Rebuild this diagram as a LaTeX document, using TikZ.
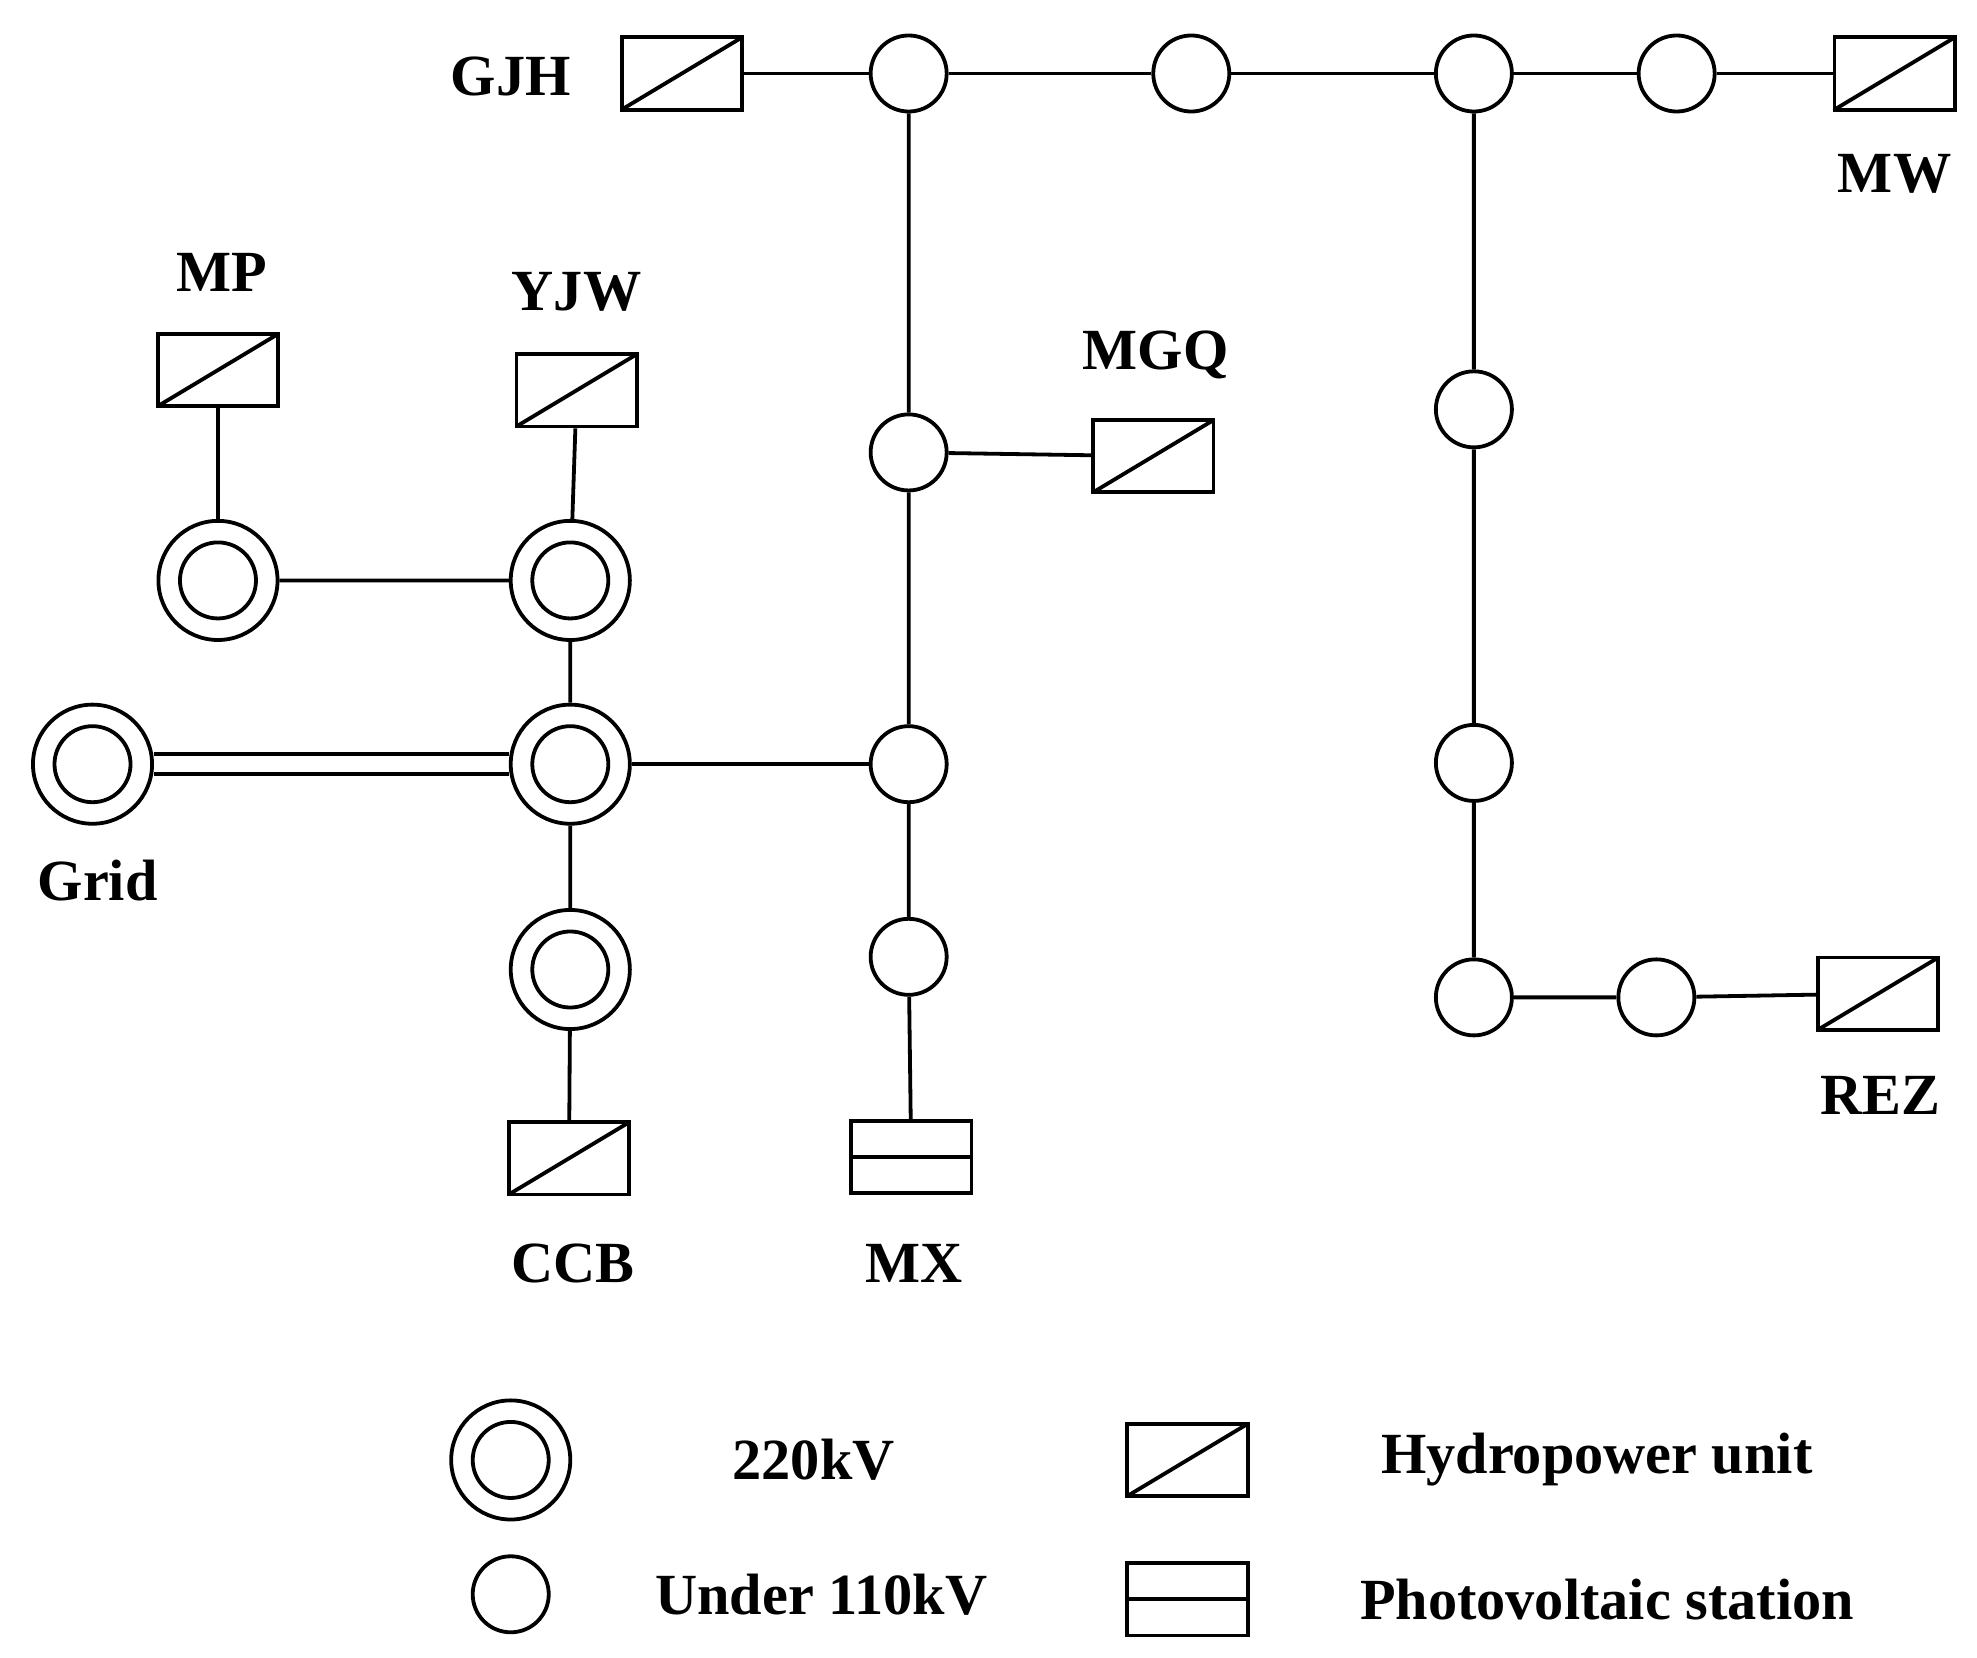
\documentclass[tikz,border=0pt]{standalone}
\usepackage{fontspec}
\setmainfont{Liberation Serif}
\usetikzlibrary{backgrounds}
\begin{document}
\begin{tikzpicture}[x=1pt,y=-1pt,line width=3pt,
 sc/.style={circle,draw,fill=white,minimum size=60pt,inner sep=0pt},
 dc/.style={circle,draw,fill=white,minimum size=94pt,inner sep=0pt,
   path picture={\draw (path picture bounding box.center) circle (30pt);}},
 hy/.style={rectangle,draw,fill=white,minimum width=95pt,minimum height=57pt,inner sep=0pt,
   path picture={\draw (path picture bounding box.south west) -- (path picture bounding box.north east);}},
 pv/.style={rectangle,draw,fill=white,minimum width=95pt,minimum height=57pt,inner sep=0pt,
   path picture={\draw (path picture bounding box.west) -- (path picture bounding box.east);}},
 lb/.style={font=\fontsize{46}{50}\selectfont\bfseries},
 ln/.style={line width=3pt}]
\useasboundingbox (0,0) rectangle (1560,1308);
\node[hy] (gjh) at (538,58) {};
\node[lb] (tgjh) at (403,60) {GJH};
\node[sc] (c1) at (717,58) {};
\node[sc] (c2) at (940,58) {};
\node[sc] (c3) at (1163,58) {};
\node[sc] (c4) at (1323,58) {};
\node[hy] (mw) at (1495,58) {};
\node[lb] (tmw) at (1495,137) {MW};
\node[sc] (c5) at (717,357) {};
\node[hy] (mgq) at (910,360) {};
\node[lb] (tmgq) at (912,280) {MGQ};
\node[sc] (c6) at (717,603) {};
\node[sc] (c7) at (717,755) {};
\node[pv] (mx) at (719,913) {};
\node[lb] (tmx) at (721,997) {MX};
\node[sc] (c8) at (1163,323) {};
\node[sc] (c9) at (1163,602) {};
\node[sc] (c10) at (1163,787) {};
\node[sc] (c11) at (1307,787) {};
\node[hy] (rez) at (1482,784) {};
\node[lb] (trez) at (1484,864) {REZ};
\node[hy] (mp) at (172,292) {};
\node[lb] (tmp) at (175,215) {MP};
\node[dc] (d1) at (172,458) {};
\node[hy] (yjw) at (455,308) {};
\node[lb] (tyjw) at (455,230) {YJW};
\node[dc] (d2) at (450,458) {};
\node[dc] (d3) at (450,603) {};
\node[dc] (grid) at (73,603) {};
\node[lb] (tgrid) at (77,695) {Grid};
\node[dc] (d4) at (450,765) {};
\node[hy] (ccb) at (449,914) {};
\node[lb] (tccb) at (452,997) {CCB};
% legend
\node[dc] (l1) at (403,1152) {};
\node[lb] (tl1) at (642,1152) {220kV};
\node[sc] (l2) at (403,1258) {};
\node[lb] (tl2) at (648,1258) {Under 110kV};
\node[hy] (l3) at (937,1152) {};
\node[lb] (tl3) at (1260,1152) {Hydropower unit};
\node[pv] (l4) at (937,1262) {};
\node[lb] (tl4) at (1268,1262) {Photovoltaic station};
\begin{scope}[on background layer]
\draw[ln] (gjh) -- (c1) -- (c2) -- (c3) -- (c4) -- (mw);
\draw[ln] (c1) -- (c5) -- (c6) -- (c7) -- (mx);
\draw[ln] (c5) -- (mgq);
\draw[ln] (c3) -- (c8) -- (c9) -- (c10) -- (c11) -- (rez);
\draw[ln] (mp) -- (d1) -- (d2) -- (yjw);
\draw[ln] (d2) -- (d3) -- (d4) -- (ccb);
\draw[ln] (d3) -- (c6);
\draw[ln,double distance=13pt] (grid) -- (d3);
\end{scope}
\end{tikzpicture}
\end{document}
